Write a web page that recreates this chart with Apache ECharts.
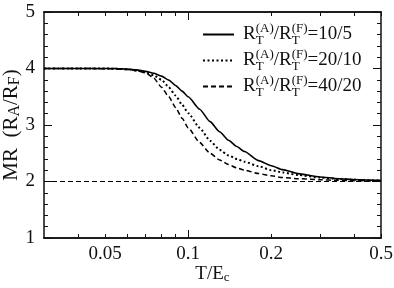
<!DOCTYPE html>
<html>
<head>
<meta charset="utf-8">
<script src="https://cdn.jsdelivr.net/npm/echarts@6/dist/echarts.min.js"></script>
<style>
html,body{margin:0;padding:0;background:#fff;}
#main{width:394px;height:288px;}
</style>
</head>
<body>
<div id="main"></div>
<script>
// T/Ec sample points (shared by the three curves)
var temps = [0.03, 0.04, 0.05, 0.055, 0.06, 0.065, 0.07, 0.075, 0.08, 0.085, 0.09, 0.095, 0.1,
             0.11, 0.12, 0.13, 0.14, 0.15, 0.16, 0.18, 0.2, 0.22, 0.25, 0.3, 0.35, 0.4, 0.45, 0.5];
var mr10_5 = [4.0, 4.0, 4.0, 3.998, 3.99, 3.975, 3.95, 3.915, 3.865, 3.795, 3.70, 3.60, 3.50,
              3.28, 3.06, 2.88, 2.73, 2.62, 2.53, 2.37, 2.28, 2.21, 2.14, 2.08, 2.05, 2.035, 2.025, 2.02];
var mr20_10 = [4.0, 4.0, 4.0, 3.995, 3.985, 3.965, 3.935, 3.88, 3.80, 3.67, 3.52, 3.36, 3.21,
               2.95, 2.72, 2.56, 2.46, 2.40, 2.35, 2.27, 2.20, 2.16, 2.115, 2.07, 2.045, 2.03, 2.02, 2.015];
var mr40_20 = [4.0, 4.0, 3.997, 3.992, 3.982, 3.962, 3.925, 3.83, 3.67, 3.50, 3.31, 3.12, 2.95,
               2.69, 2.50, 2.38, 2.30, 2.24, 2.20, 2.14, 2.10, 2.07, 2.05, 2.03, 2.02, 2.015, 2.01, 2.01];
var limitT = [0.03, 0.5];
var limitMR = [2, 2];

var names = ['10/5', '20/10', '40/20'];
var xLabels = [0.05, 0.1, 0.2, 0.5];
var xMajorTicks = [0.1];
var xMinorTicks = [0.04, 0.05, 0.06, 0.07, 0.08, 0.09, 0.2, 0.3, 0.4, 0.5];

function pairs(xs, ys){
    return xs.map(function(x, i){ return [x, ys[i]]; });
}

var serif = 'Liberation Serif';
var lineCol = '#111';

function xAxisDef(pos, ticks, len, labels){
    return {
        type: 'log',
        logBase: 10,
        min: 0.03,
        max: 0.5,
        position: pos,
        axisLine: {show: true, onZero: false, lineStyle: {color: lineCol, width: 1.5}},
        axisTick: {show: true, inside: true, length: len, customValues: ticks, lineStyle: {color: lineCol, width: 1}},
        axisLabel: labels ? {
            show: true, customValues: labels, margin: 7,
            fontFamily: serif, fontSize: 19, color: '#111',
            formatter: function(v){ return String(+v.toFixed(3)); }
        } : {show: false},
        splitLine: {show: false},
        minorTick: {show: false}
    };
}

function yAxisDef(pos, labels){
    return {
        type: 'value',
        min: 1,
        max: 5,
        interval: 1,
        position: pos,
        axisLine: {show: true, lineStyle: {color: lineCol, width: 1.5}},
        axisTick: {show: true, inside: true, length: 8, lineStyle: {color: lineCol, width: 1}},
        minorTick: {show: true, splitNumber: 5, length: 4, lineStyle: {color: lineCol, width: 1}},
        axisLabel: labels ? {show: true, margin: 9, fontFamily: serif, fontSize: 19, color: '#111'} : {show: false},
        splitLine: {show: false}
    };
}

var xBottom = xAxisDef('bottom', xMajorTicks, 8, xLabels);
xBottom.name = 'T/E{s|c}';
xBottom.nameLocation = 'middle';
xBottom.nameGap = 27;
xBottom.nameMoveOverlap = false;
xBottom.nameTextStyle = {
    fontFamily: serif, fontSize: 19, color: '#111',
    rich: {s: {fontFamily: serif, fontSize: 13, lineHeight: 13, verticalAlign: 'bottom', color: '#111'}}
};

var yLeft = yAxisDef('left', true);
yLeft.name = 'MR  (R{s|A}/R{s|F})';
yLeft.nameLocation = 'middle';
yLeft.nameGap = 21;
yLeft.nameMoveOverlap = false;
yLeft.nameTextStyle = {
    fontFamily: serif, fontSize: 21, color: '#111', lineHeight: 23,
    rich: {s: {fontFamily: serif, fontSize: 16, lineHeight: 14, verticalAlign: 'bottom', color: '#111'}}
};

var supSub = {
    sp: {width: 4},
    m: {fontFamily: serif, fontSize: 19, lineHeight: 25, color: '#111'},
    b: {fontFamily: serif, fontSize: 13, lineHeight: 14, verticalAlign: 'bottom', width: 0, color: '#111'},
    t: {fontFamily: serif, fontSize: 13, lineHeight: 14, verticalAlign: 'top', color: '#111'}
};

var myChart = echarts.init(document.getElementById('main'), null, {renderer: 'canvas'});
var option = {
    backgroundColor: '#fff',
    animation: false,
    grid: {left: 44, top: 12, right: 13, bottom: 50, containLabel: false, outerBoundsMode: 'none'},
    legend: {
        data: names,
        orient: 'vertical',
        left: 197,
        top: 17,
        itemWidth: 31,
        itemHeight: 14,
        itemGap: 1,
        itemStyle: {opacity: 0},
        textStyle: {rich: supSub},
        formatter: function(n){
            return '{sp| }{m|R}{b|T}{t|(A)}{m|/R}{b|T}{t|(F)}{m|=' + n + '}';
        }
    },
    xAxis: [
        xBottom,
        xAxisDef('bottom', xMinorTicks, 4, null),
        xAxisDef('top', xMajorTicks, 8, null),
        xAxisDef('top', xMinorTicks, 4, null)
    ],
    yAxis: [yLeft, yAxisDef('right', false)],
    series: [
        {
            name: names[0], type: 'line', symbol: 'none', smooth: 0.2, smoothMonotone: 'x',
            data: pairs(temps, mr10_5),
            lineStyle: {color: '#000', width: 1.6, type: 'solid'},
            itemStyle: {color: '#000'}
        },
        {
            name: names[1], type: 'line', symbol: 'none', smooth: 0.2, smoothMonotone: 'x',
            data: pairs(temps, mr20_10),
            lineStyle: {color: '#000', width: 2, type: [2, 2.5]},
            itemStyle: {color: '#000'}
        },
        {
            name: names[2], type: 'line', symbol: 'none', smooth: 0.2, smoothMonotone: 'x',
            data: pairs(temps, mr40_20),
            lineStyle: {color: '#000', width: 1.5, type: [5, 3]},
            itemStyle: {color: '#000'}
        },
        {
            name: 'limit', type: 'line', symbol: 'none',
            data: pairs(limitT, limitMR),
            lineStyle: {color: '#000', width: 1.2, type: [5, 3]},
            silent: true
        }
    ]
};
myChart.setOption(option);
</script>
</body>
</html>
